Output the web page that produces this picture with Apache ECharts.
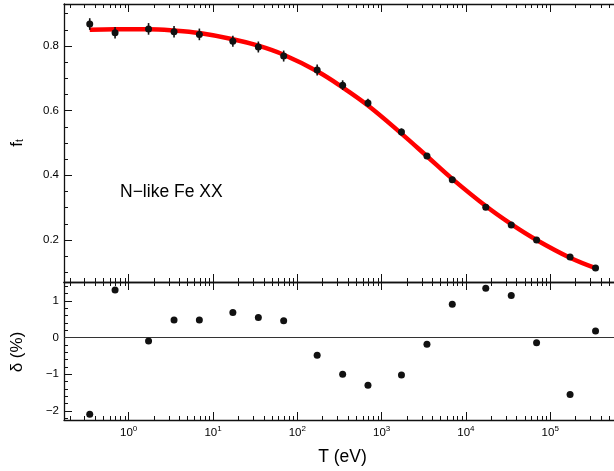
<!DOCTYPE html>
<html><head><meta charset="utf-8">
<script src="https://cdn.jsdelivr.net/npm/echarts@6/dist/echarts.min.js"></script>
<style>html,body{margin:0;padding:0;background:#fff}#c{width:614px;height:471px}</style>
</head><body><div id="c"></div>
<script>
// Temperatures (eV)
const T = [0.345, 0.689, 1.72, 3.45, 6.89, 17.2, 34.5, 68.9, 172, 345, 689, 1720, 3450, 6890, 17200, 34500, 68900, 172000, 345000];
// fraction f_t (data points)
const fData = [0.868, 0.841, 0.853, 0.844, 0.836, 0.815, 0.797, 0.769, 0.726, 0.679, 0.624, 0.534, 0.460, 0.386, 0.301, 0.246, 0.200, 0.147, 0.113];
// error bar half-lengths
const fErr = [0.018, 0.018, 0.018, 0.018, 0.018, 0.017, 0.017, 0.017, 0.017, 0.015, 0.013, 0.011, 0.009, 0.008, 0.006, 0.005, 0.004, 0.003, 0.002];
// fit curve (red)
const fFit = [0.850, 0.852, 0.852, 0.848, 0.840, 0.821, 0.801, 0.773, 0.722, 0.672, 0.616, 0.529, 0.459, 0.389, 0.305, 0.249, 0.200, 0.145, 0.113];
// residuals delta (%)
const delta = [-2.09, 1.30, -0.09, 0.48, 0.48, 0.69, 0.55, 0.46, -0.48, -1.00, -1.30, -1.02, -0.18, 0.91, 1.35, 1.15, -0.14, -1.55, 0.18];

// tick values
const xMajor = [1, 10, 100, 1000, 10000, 100000];
const xMinor = [0.2,0.3,0.4,0.5,0.6,0.7,0.8,0.9, 2,3,4,5,6,7,8,9, 20,30,40,50,60,70,80,90, 200,300,400,500,600,700,800,900, 2000,3000,4000,5000,6000,7000,8000,9000, 20000,30000,40000,50000,60000,70000,80000,90000, 200000,300000,400000,500000];
const fTicks = [0.2, 0.4, 0.6, 0.8];
const fMinor = [0.1, 0.15, 0.25, 0.3, 0.35, 0.45, 0.5, 0.55, 0.65, 0.7, 0.75, 0.85, 0.9];
const dTicks = [-2, -1, 0, 1];
const dMinor = [-2.2, -1.8, -1.6, -1.4, -1.2, -0.8, -0.6, -0.4, -0.2, 0.2, 0.4, 0.6, 0.8, 1.2, 1.4];

const X_MIN = 0.1708, X_MAX = 571000;
const F_MIN = 0.07, F_MAX = 0.93;
const D_MIN = -2.25, D_MAX = 1.52;
const FONT = '"Liberation Sans", Arial, Helvetica, sans-serif';
const AX = '#111';

function xAxisDef(grid, pos, ticks, len, showLine, labels) {
  return {
    type: 'log', gridIndex: grid, position: pos, min: X_MIN, max: X_MAX, logBase: 10,
    axisLine: { show: showLine, onZero: false, lineStyle: { color: AX, width: 1.3 } },
    axisTick: { show: true, inside: true, length: len, customValues: ticks, lineStyle: { color: AX, width: 1 } },
    axisLabel: labels ? {
      show: true, customValues: xMajor, margin: 5, fontFamily: FONT, fontSize: 11.5, color: '#000',
      formatter: v => '10{s|' + Math.round(Math.log10(v)) + '}',
      rich: { s: { fontSize: 8, fontFamily: FONT, color: '#000', padding: [0, 0, 7, 0] } }
    } : { show: false },
    splitLine: { show: false }, minorTick: { show: false }
  };
}
function yAxisDef(grid, min, max, ticks, len, showLine, labels, fmt) {
  return {
    type: 'value', gridIndex: grid, position: 'left', min: min, max: max,
    axisLine: { show: showLine, onZero: false, lineStyle: { color: AX, width: 1.3 } },
    axisTick: { show: true, inside: true, length: len, customValues: ticks, lineStyle: { color: AX, width: 1 } },
    axisLabel: labels ? { show: true, customValues: ticks, margin: 5, fontFamily: FONT, fontSize: 11.5, color: '#000', formatter: fmt } : { show: false },
    splitLine: { show: false }
  };
}

const chart = echarts.init(document.getElementById('c'), null, { renderer: 'canvas' });
chart.setOption({
  animation: false,
  backgroundColor: '#fff',
  grid: [
    { left: 64, top: 4, right: 0, height: 278 },
    { left: 64, top: 282, right: 0, height: 138 }
  ],
  xAxis: [
    xAxisDef(0, 'bottom', xMajor, 8, true, false),   // 0
    xAxisDef(0, 'bottom', xMinor, 4, false, false),  // 1
    xAxisDef(0, 'top', xMajor, 8, true, false),      // 2
    xAxisDef(0, 'top', xMinor, 4, false, false),     // 3
    xAxisDef(1, 'bottom', xMajor, 8, true, true),    // 4
    xAxisDef(1, 'bottom', xMinor, 4, false, false),  // 5
    xAxisDef(1, 'top', xMajor, 8, true, false),      // 6
    xAxisDef(1, 'top', xMinor, 4, false, false)      // 7
  ],
  yAxis: [
    yAxisDef(0, F_MIN, F_MAX, fTicks, 8, true, true, v => v.toFixed(1)),
    yAxisDef(0, F_MIN, F_MAX, fMinor, 4, false, false),
    yAxisDef(1, D_MIN, D_MAX, dTicks, 8, true, true, v => String(v).replace('-', '\u2212')),
    yAxisDef(1, D_MIN, D_MAX, dMinor, 4, false, false)
  ],
  series: [
    {
      type: 'line', xAxisIndex: 0, yAxisIndex: 0, data: T.map((t, i) => [t, fFit[i]]),
      smooth: 0.4, showSymbol: false, symbol: 'none', lineStyle: { color: '#ff0000', width: 4.5 }, z: 3
    },
    {
      type: 'custom', xAxisIndex: 0, yAxisIndex: 0, data: T.map((t, i) => [t, fData[i], fErr[i]]),
      encode: { x: 0, y: 1 }, z: 4,
      renderItem: function (params, api) {
        const x = api.value(0), y = api.value(1), e = api.value(2);
        const a = api.coord([x, y - e]), b = api.coord([x, y + e]);
        return { type: 'line', shape: { x1: a[0], y1: a[1], x2: b[0], y2: b[1] }, style: { stroke: '#111', lineWidth: 1.6 } };
      }
    },
    {
      type: 'scatter', xAxisIndex: 0, yAxisIndex: 0, data: T.map((t, i) => [t, fData[i]]),
      symbol: 'circle', symbolSize: 7, itemStyle: { color: '#111', opacity: 1 }, z: 5
    },
    {
      type: 'scatter', xAxisIndex: 4, yAxisIndex: 2, data: T.map((t, i) => [t, delta[i]]),
      symbol: 'circle', symbolSize: 7, itemStyle: { color: '#111', opacity: 1 }, z: 5,
      markLine: {
        silent: true, symbol: 'none', label: { show: false },
        lineStyle: { color: '#333', width: 1.2, type: 'solid', opacity: 1 },
        data: [{ yAxis: 0 }]
      }
    }
  ],
  graphic: [
    { type: 'text', left: 120, top: 183, style: { text: 'N\u2212like Fe XX', font: '17.5px ' + FONT, fill: '#000' } },
    { type: 'text', x: 342.5, y: 457, style: { text: 'T (eV)', font: '17.5px ' + FONT, fill: '#000', textAlign: 'center', textVerticalAlign: 'middle' } },
    { type: 'text', x: 17, y: 352, rotation: Math.PI / 2, style: { text: '\u03b4 (%)', font: '17px ' + FONT, fill: '#000', textAlign: 'center', textVerticalAlign: 'middle' } },
    { type: 'text', x: 17, y: 143, rotation: Math.PI / 2, style: {
        text: '{a|f}{b|t}', fill: '#000', textAlign: 'center', textVerticalAlign: 'middle',
        rich: { a: { fontSize: 17, fontFamily: FONT, fill: '#000' }, b: { fontSize: 10, fontFamily: FONT, fill: '#000', padding: [6, 0, 0, 0] } }
      } }
  ]
});
</script></body></html>
